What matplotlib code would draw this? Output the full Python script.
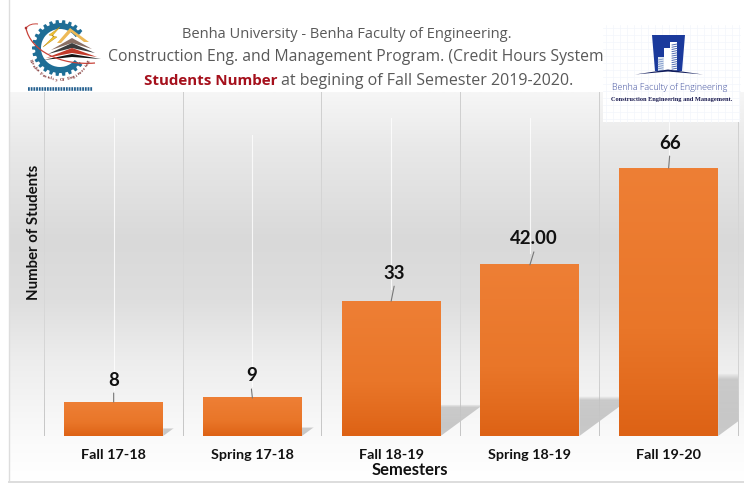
import numpy as np
import matplotlib
matplotlib.use("Agg")
import matplotlib.pyplot as plt
from matplotlib.colors import LinearSegmentedColormap
from matplotlib.patches import Polygon, Rectangle, Wedge, Circle, PathPatch
from matplotlib.path import Path

# ---- data ----
semesters = ["Fall 17-18", "Spring 17-18", "Fall 18-19", "Spring 18-19", "Fall 19-20"]
students = [8, 9, 33, 42, 66]
value_labels = ["8", "9", "33", "42.00", "66"]
x_title = "Semesters"
y_title = "Number of Students"
title_line1 = "Benha University - Benha Faculty of Engineering."
title_line2 = "Construction Eng. and Management Program. (Credit Hours System"
title_red = "Students Number"
title_rest = "at begining of Fall Semester 2019-2020."

W, H = 744, 483
fig = plt.figure(figsize=(W / 100, H / 100), dpi=100, facecolor="white")


def grad(axx, extent, stops, zorder=1, clip=None, alpha=None):
    """Vertical gradient; stops = [(frac from top, colour)]"""
    cm = LinearSegmentedColormap.from_list("g", stops)
    arr = np.linspace(0, 1, 256).reshape(-1, 1)
    rgba = cm(arr)
    if alpha is not None:
        rgba = rgba.copy()
        rgba[..., 3] = np.interp(arr[:, 0], [a[0] for a in alpha], [a[1] for a in alpha]).reshape(-1, 1)
    im = axx.imshow(rgba, extent=extent, origin="upper", aspect="auto",
                    zorder=zorder, interpolation="bilinear")
    if clip is not None:
        im.set_clip_path(clip)
    return im


# ---- background layer (pixel coordinates) ----
bg = fig.add_axes([0, 0, 1, 1], zorder=0)
bg.set_axis_off()
top_bg, bot_bg = 92, 481
yy = np.array([92, 150, 240, 300, 360, 436, 481])
cc = ["#F6F6F6", "#E8E8E8", "#D9D9D9", "#DEDEDE", "#EDEDED", "#FAFAFA", "#FFFFFF"]
grad(bg, [9, W, bot_bg, top_bg], [((y - 92) / (481 - 92), c) for y, c in zip(yy, cc)])
bg.set_xlim(0, W)
bg.set_ylim(H, 0)
bg.plot([8.5, 8.5], [0, 481.5], color="#DDDDDD", lw=1.0)
bg.plot([8.5, W], [481.5, 481.5], color="#DDDDDD", lw=1.4)

# ---- chart ----
ax_left, ax_right, ax_top, ax_bot = 44.3, 738.0, 92.0, 436.0
ax = fig.add_axes([ax_left / W, 1 - ax_bot / H, (ax_right - ax_left) / W, (ax_bot - ax_top) / H], zorder=1)
ax.patch.set_alpha(0)
px_per_unit = 4.034
ymin = -0.42
ymax = ymin + (ax_bot - ax_top) / px_per_unit
xpos = np.arange(len(students))
px_x = len(students) / (ax_right - ax_left)  # axis units per px
bar_w = 0.7135

# category grid lines, fading in the middle
for g in np.arange(len(students) + 1) - 0.5:
    grad(ax, [g - 0.45 * px_x, g + 0.45 * px_x, ymin, ymax],
         [(0, "#CFCFCF"), (0.25, "#D4D4D4"), (0.55, "#D8D8D8"), (0.75, "#D6D6D6"), (1, "#C6C6C6")], zorder=1)

# shadows
shadow_frac = 0.232
shadow_run = 1.36 * px_per_unit * px_x
for i, v in enumerate(students):
    R = xpos[i] + bar_w / 2
    h = shadow_frac * (v - ymin)
    poly = Polygon([(R, ymin), (R + shadow_run * h, ymin + h), (R, ymin + h)],
                   closed=True, transform=ax.transData, facecolor="none", edgecolor="none")
    ax.add_patch(poly)
    grad(ax, [R, R + shadow_run * h, ymin, ymin + h], [(0, "#C2C2C2"), (1, "#CACACA")], zorder=2,
         clip=poly, alpha=[(0, 0), (0.1, 0.85), (0.7, 1), (1, 1)])

# white centre lines above the bars
white_top = [118, 135, 118, 118, 92]
for i, v in enumerate(students):
    yt = ymin + (ax_bot - white_top[i]) / px_per_unit
    ax.plot([xpos[i], xpos[i]], [v + 3, yt], color="white", lw=0.8, alpha=0.8, zorder=2)

# bars
bars = ax.bar(xpos, np.array(students) - ymin, bottom=ymin, width=bar_w, color="none", edgecolor="none", zorder=3)
for b in bars:
    x0, w, y0, h = b.get_x(), b.get_width(), b.get_y(), b.get_height()
    grad(ax, [x0, x0 + w, y0, y0 + h],
         [(0, "#EE7F35"), (0.6, "#E97629"), (0.85, "#E26A1D"), (1, "#DD6215")], zorder=3)

# data labels with leader lines
label_dx = [0, -1, 3, 4, 1]
label_dy = [22, 22, 28, 26, 25]
for i, v in enumerate(students):
    ax.annotate(value_labels[i], xy=(xpos[i], v), xytext=(label_dx[i] * 0.72, label_dy[i] * 0.72),
                textcoords="offset points", ha="center", va="center",
                family="Lato", fontweight="bold", fontsize=13.4, color="#111111", zorder=5)
    ax.annotate("", xy=(xpos[i], v), xytext=(label_dx[i] * 0.72, (label_dy[i] - 13) * 0.72),
                textcoords="offset points",
                arrowprops=dict(arrowstyle="-", color="#777777", lw=0.8, shrinkA=0, shrinkB=0), zorder=4)

ax.set_xlim(-0.5, len(students) - 0.5)
ax.set_ylim(ymin, ymax)
ax.set_yticks([])
ax.set_xticks(xpos)
ax.set_xticklabels(semesters, family="Lato", fontweight="bold", fontsize=10.4, color="#111111")
ax.tick_params(axis="x", length=0, pad=9.5)
for s in ax.spines.values():
    s.set_visible(False)

# ---- overlay: titles, logos (pixel coordinates) ----
ov = fig.add_axes([0, 0, 1, 1], zorder=2)
ov.set_xlim(0, W)
ov.set_ylim(H, 0)
ov.set_axis_off()
ov.patch.set_alpha(0)

ov.text(410, 470, x_title, family="Lato", fontweight="bold", fontsize=12.0, ha="center", va="center", color="#111111")
ov.text(34, 232, y_title, family="Lato", fontweight="bold", fontsize=10.8, rotation=90, ha="center", va="center", color="#111111")

tfont = dict(family="Open Sans", color="#595959", va="center")
ov.text(347, 34, title_line1, ha="center", fontsize=10.5, **tfont)
ov.text(356, 57, title_line2, ha="center", fontsize=11.35, **tfont)
ov.text(144, 81, title_red, ha="left", family="Open Sans", fontsize=10.9, fontweight="bold", color="#A5101C", va="center")
ov.text(281, 81, title_rest, ha="left", fontsize=11.5, **tfont)

# left logo
c = (60, 48)
ov.add_patch(Rectangle((25, 17), 78, 75, fc="white", ec="none", zorder=1))
ov.add_patch(Wedge(c, 25, 39, 325, width=6, fc="#1F6E96", ec="none", zorder=2))
for a in np.arange(40, 326, 14):
    t = np.deg2rad(a)
    ux, uy = np.cos(t), -np.sin(t)
    vx, vy = -uy, ux
    pts = [(c[0] + ux * r + vx * s, c[1] + uy * r + vy * s) for r, s in [(24, -2.0), (28, -1.4), (28, 1.4), (24, 2.0)]]
    ov.add_patch(Polygon(pts, fc="#1F6E96", ec="none", zorder=2))
# lightning
ov.add_patch(Polygon([(60, 27), (49, 35), (54, 36), (43, 47), (57, 37), (52, 36)], fc="#F2C230", ec="#B98A10", lw=0.3, zorder=3))
# roof layers
ov.add_patch(Polygon([(70, 28), (57, 43), (61, 43), (71, 32), (84, 42), (89, 42)], fc="#EDB957", ec="none", zorder=3))
ov.add_patch(Polygon([(51, 50), (72, 38), (92, 49), (72, 43)], fc="#8A6F63", ec="none", zorder=3))
ov.add_patch(Polygon([(48, 54), (72, 43), (95, 53), (72, 48)], fc="#3C3C3C", ec="none", zorder=3))
ov.add_patch(Polygon([(46, 58), (72, 48), (97, 57), (72, 53)], fc="#C23A2A", ec="none", zorder=3))
ov.add_patch(Polygon([(43, 60), (72, 54), (101, 59), (72, 57)], fc="#151515", ec="none", zorder=3))
# orbit
orbit = Path([(26, 28), (30, 50), (60, 66), (95, 63)], [Path.MOVETO, Path.CURVE4, Path.CURVE4, Path.CURVE4])
ov.add_patch(PathPatch(orbit, fc="none", ec="#C8433A", lw=0.9, zorder=4))
orbit2 = Path([(26, 28), (30, 23), (38, 24)], [Path.MOVETO, Path.CURVE3, Path.CURVE3])
ov.add_patch(PathPatch(orbit2, fc="none", ec="#C8433A", lw=0.7, zorder=4))
ov.add_patch(Circle((26, 28), 1.3, fc="#B03030", ec="none", zorder=4))
# curved logo name
logo_name = "Benha Faculty Of Engineering"
angs = np.linspace(205, 335, len(logo_name))
for ch, a in zip(logo_name, angs):
    t = np.deg2rad(a)
    ov.text(c[0] + 32 * np.cos(t), c[1] - 32 * np.sin(t), ch, fontsize=3.4, family="Liberation Serif", fontweight="bold",
            color="#7A2A2A", rotation=a - 270, ha="center", va="center", zorder=4)
ov.plot([28, 93], [89, 89], color="#24608F", lw=2.6, ls=(0, (0.5, 0.25)), zorder=3)

# right logo
ov.add_patch(Rectangle((603, 25), 137, 97, fc="white", ec="none", zorder=1))
for gx in np.arange(606, 740, 7):
    ov.plot([gx, gx], [25, 122], color="#F3F6FB", lw=0.5, zorder=1)
for gy in np.arange(28, 122, 7):
    ov.plot([603, 740], [gy, gy], color="#F3F6FB", lw=0.5, zorder=1)
ov.add_patch(Polygon([(652, 35), (685, 35), (682, 71), (655, 71)], fc="#1B3A9C", ec="none", zorder=2))
ov.add_patch(Rectangle((657.5, 57), 6, 14, fc="#DCE6F2", ec="none", zorder=3))
ov.add_patch(Rectangle((663.5, 48), 6, 23, fc="#FFFFFF", ec="none", zorder=3))
ov.add_patch(Rectangle((669.5, 42), 7.5, 29, fc="#FFFFFF", ec="none", zorder=3))
for hy in np.arange(44, 71, 2.2):
    ov.plot([672, 677], [hy + 1, hy], color="#3C5AA8", lw=0.6, zorder=4)
for hy in np.arange(59, 71, 2.2):
    ov.plot([658, 663], [hy + 1, hy], color="#6C86C0", lw=0.5, zorder=4)
ov.add_patch(Polygon([(635, 74.5), (668, 69.5), (703, 74.5), (668, 71.5)], fc="#101C5C", ec="none", zorder=4))
ov.text(670, 87.5, "Benha Faculty of Engineering", family="Open Sans", fontweight="light", fontsize=6.4, color="#3A4A9A",
        ha="center", va="center", zorder=4)
ov.text(672, 99.5, "Construction Engineering and Management.", family="Liberation Serif", fontweight="bold", fontsize=4.6,
        color="#1C1C50", ha="center", va="center", zorder=4)

fig.savefig("out.png", dpi=100)
